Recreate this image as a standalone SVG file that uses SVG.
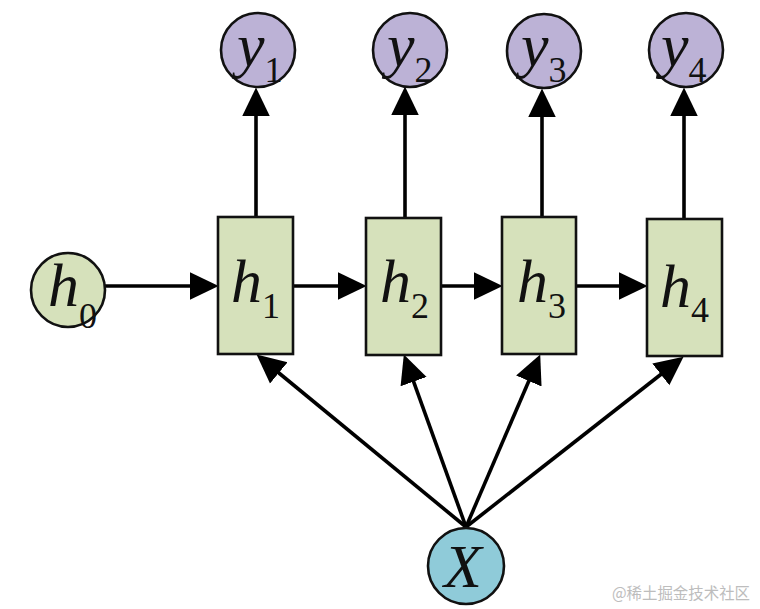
<svg xmlns="http://www.w3.org/2000/svg" width="760" height="609" viewBox="0 0 760 609">
<style>
.node{stroke:#111;stroke-width:2.6}
.y{fill:#bcb2d6}
.h{fill:#d6e1bb}
.x{fill:#8fcbd9}
.lbl{font-family:"Liberation Serif","DejaVu Serif",serif;font-style:italic;font-size:62px;fill:#111}
.sub{font-style:normal;font-size:36px}
.edge{stroke:#000;stroke-width:3.6;fill:none;marker-end:url(#ah)}
.wm{font-family:"Noto Sans CJK SC",sans-serif;font-size:16px;fill:#bdbdbd}
</style>
<defs>
<marker id="ah" markerUnits="userSpaceOnUse" markerWidth="30" markerHeight="30" viewBox="0 -13 26 26" refX="21" refY="0" orient="auto">
<path d="M0,-12 L25,0 L0,12 z" fill="#000"/>
</marker>
</defs>
<rect width="760" height="609" fill="#fff"/>
<g id="connectors">
<path class="edge" d="M105,286 L214,286"/>
<path class="edge" d="M293,286 L362,286"/>
<path class="edge" d="M441,286 L498,286"/>
<path class="edge" d="M576,286 L643,286"/>
<path class="edge" d="M256,217 L256,92"/>
<path class="edge" d="M405,218 L405,91"/>
<path class="edge" d="M542,217 L542,93"/>
<path class="edge" d="M684,219 L684,92"/>
<path class="edge" d="M466,527 L260.1,357.5"/>
<path class="edge" d="M466,527 L405.4,358.8"/>
<path class="edge" d="M466,527 L538.4,358.7"/>
<path class="edge" d="M466,527 L679.9,359.5"/>
</g>
<g id="y1"><circle class="node y" cx="258" cy="50" r="37"/><text class="lbl" x="237" y="66">y<tspan class="sub" dy="16">1</tspan></text></g>
<g id="y2"><circle class="node y" cx="410" cy="50" r="37"/><text class="lbl" x="387" y="66">y<tspan class="sub" dy="16">2</tspan></text></g>
<g id="y3"><circle class="node y" cx="544" cy="51" r="37"/><text class="lbl" x="521" y="66">y<tspan class="sub" dy="16">3</tspan></text></g>
<g id="y4"><circle class="node y" cx="686" cy="50" r="37"/><text class="lbl" x="661" y="66">y<tspan class="sub" dy="16">4</tspan></text></g>
<g id="h0"><circle class="node h" cx="68" cy="290" r="37"/><text class="lbl" x="48" y="306">h<tspan class="sub" dy="22">0</tspan></text></g>
<g id="h1"><rect class="node h" x="218" y="217" width="75" height="137"/><text class="lbl" x="231" y="302">h<tspan class="sub" dy="16">1</tspan></text></g>
<g id="h2"><rect class="node h" x="366" y="218" width="75" height="137"/><text class="lbl" x="380" y="302">h<tspan class="sub" dy="16">2</tspan></text></g>
<g id="h3"><rect class="node h" x="502" y="217" width="74" height="137"/><text class="lbl" x="517" y="302">h<tspan class="sub" dy="16">3</tspan></text></g>
<g id="h4"><rect class="node h" x="647" y="219" width="75" height="137"/><text class="lbl" x="660" y="307">h<tspan class="sub" dy="15">4</tspan></text></g>
<g id="X"><circle class="node x" cx="466" cy="566" r="38"/><text class="lbl" x="444" y="587">X</text></g>
<text class="wm" x="612" y="599" textLength="138" lengthAdjust="spacingAndGlyphs">@稀土掘金技术社区</text>
</svg>
